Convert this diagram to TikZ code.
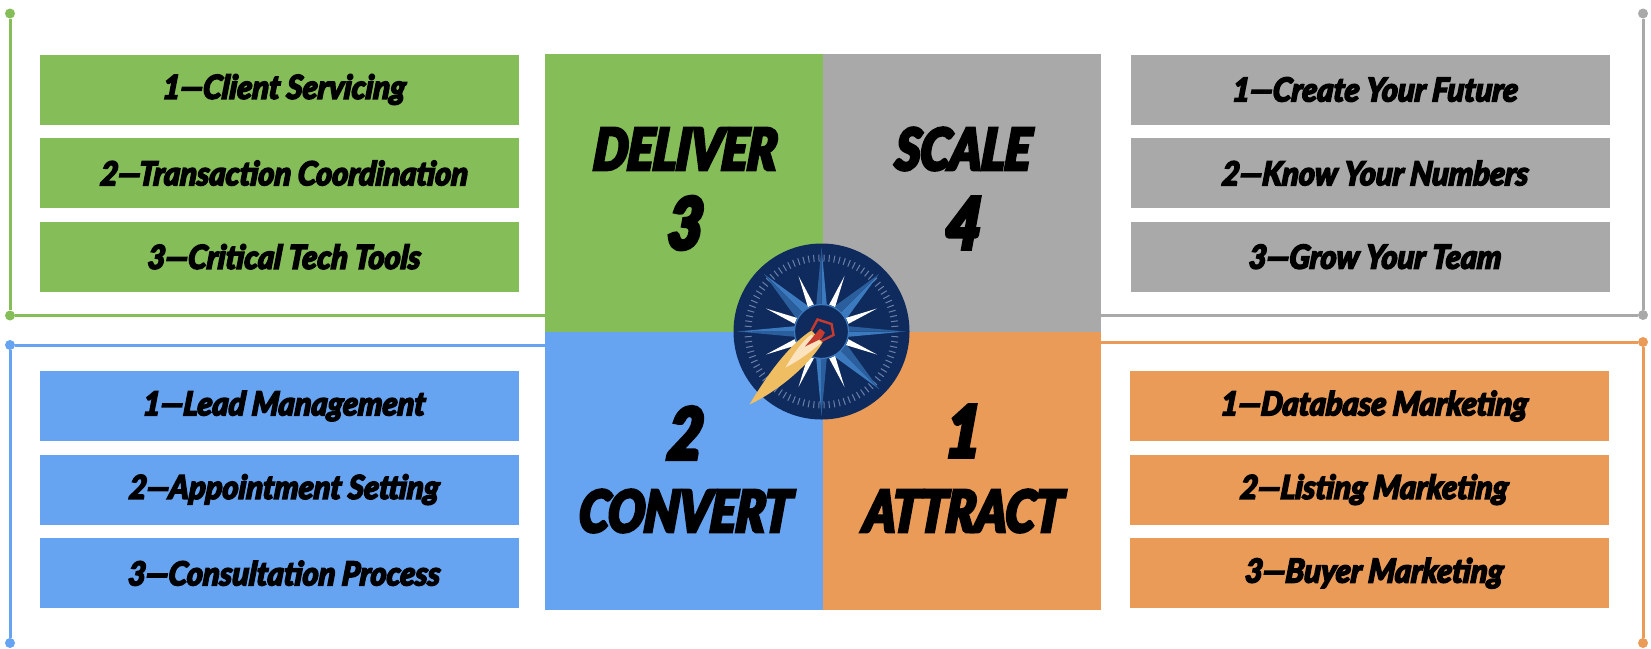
\documentclass[tikz,border=0pt]{standalone}
\usepackage{fontspec}
\newfontfamily\heavyfont[UprightFont=* Black Italic,FakeStretch=0.93,FakeBold=4.5,FakeSlant=0.08]{Lato}
\newfontfamily\headfont[UprightFont=* Black Italic,FakeStretch=0.84,FakeBold=6,FakeSlant=0.08]{Lato}
\definecolor{grn}{HTML}{85BD58}
\definecolor{gry}{HTML}{A8A9A8}
\definecolor{blu}{HTML}{66A4F2}
\definecolor{org}{HTML}{EA9B57}
\definecolor{navy}{HTML}{0F2A5C}
\definecolor{stara}{HTML}{3B7ABF}
\definecolor{starb}{HTML}{2A5E9C}
\definecolor{tick}{HTML}{6A80A8}
\definecolor{flame}{HTML}{EFBE62}
\definecolor{cream}{HTML}{FBE3C0}
\definecolor{ember}{HTML}{C73A2E}
\usetikzlibrary{positioning}

\begin{document}
\begin{tikzpicture}[%
  x=1pt, y=-1pt,
  node distance=13.2pt,
  item/.style={rectangle, minimum width=479pt, minimum height=70pt, inner sep=0pt, execute at begin node=\hspace*{9pt}, font=\heavyfont\fontsize{33}{36}\selectfont},
  quad/.style={rectangle, minimum width=278pt, minimum height=278pt, inner sep=0pt},
  word/.style={inner sep=0pt, font=\headfont\fontsize{57}{60}\selectfont},
  digit/.style={inner sep=0pt, font=\headfont\fontsize{71}{74}\selectfont},
  rail/.style={line width=3pt},
  dot/.style={circle, inner sep=0pt, minimum size=10pt},
  ]
  \useasboundingbox (0,0) rectangle (1651,648);

  % the four quarters in the middle
  \node[quad, fill=grn] (deliver) at (684,193) {};
  \node[quad, fill=gry] (scale) at (962,193) {};
  \node[quad, fill=blu] (convert) at (684,471) {};
  \node[quad, fill=org] (attract) at (962,471) {};
  \node[word] (wdeliver) at (684,149) {DELIVER};
  \node[digit] (ndeliver) at (684,223) {3};
  \node[word] (wscale) at (962,149) {SCALE};
  \node[digit] (nscale) at (962,223) {4};
  \node[digit] (nconvert) at (684,433) {2};
  \node[word] (wconvert) at (684,511) {CONVERT};
  \node[digit] (nattract) at (962,431) {1};
  \node[word] (wattract) at (962,511) {ATTRACT};

  % lists
  \node[item, fill=grn] (g1) at (279,89.5) {1—Client Servicing};
  \node[item, fill=grn, below=of g1] (g2) {2—Transaction Coordination};
  \node[item, fill=grn, below=of g2] (g3) {3—Critical Tech Tools};
  \node[item, fill=gry] (s1) at (1370,89.5) {1—Create Your Future};
  \node[item, fill=gry, below=of s1] (s2) {2—Know Your Numbers};
  \node[item, fill=gry, below=of s2] (s3) {3—Grow Your Team};
  \node[item, fill=blu] (b1) at (279,406) {1—Lead Management};
  \node[item, fill=blu, below=of b1] (b2) {2—Appointment Setting};
  \node[item, fill=blu, below=of b2] (b3) {3—Consultation Process};
  \node[item, fill=org] (o1) at (1369,406) {1—Database Marketing};
  \node[item, fill=org, below=of o1] (o2) {2—Listing Marketing};
  \node[item, fill=org, below=of o2] (o3) {3—Buyer Marketing};

  % rails with their end dots
  \node[dot, fill=grn] (gtop) at (10,13.5) {};
  \node[dot, fill=grn] (gbot) at (10,315.5) {};
  \node[dot, fill=blu] (btop) at (10,345) {};
  \node[dot, fill=blu] (bbot) at (10,643) {};
  \node[dot, fill=gry] (stop) at (1643,13.5) {};
  \node[dot, fill=gry] (sbot) at (1643,315) {};
  \node[dot, fill=org] (otop) at (1643,342) {};
  \node[dot, fill=org] (obot) at (1643,643) {};
  \draw[rail, grn] (gtop) -- (gbot) -- (gbot -| deliver.west);
  \draw[rail, blu] (bbot) -- (btop) -- (btop -| convert.west);
  \draw[rail, gry] (stop) -- (sbot) -- (sbot -| scale.east);
  \draw[rail, org] (obot) -- (otop) -- (otop -| attract.east);

  % compass
  \begin{scope}[shift={(821.5,331.5)}]
    \node[circle, fill=navy, minimum size=176pt, inner sep=0pt] (dial) at (0,0) {};
    \foreach \a in {0,4,...,356}
      \draw[line width=1pt, tick] (\a:70) -- (\a:77);
    \foreach \a in {0,90,180,270} {
      \fill[stara] (\a:84) -- (\a+12:26) -- (\a:26) -- cycle;
      \fill[starb] (\a:84) -- (\a-12:26) -- (\a:26) -- cycle;
    }
    \foreach \a in {45,135,225,315} {
      \fill[stara] (\a:81) -- (\a+19:27) -- (\a:27) -- cycle;
      \fill[starb] (\a:81) -- (\a-19:27) -- (\a:27) -- cycle;
    }
    \foreach \a in {22.5,67.5,...,337.5}
      \fill[white] (\a:60) -- (\a+6.5:28) -- (\a-6.5:28) -- cycle;
    \node[circle, fill=navy, draw=stara, line width=1.2pt, minimum size=54pt, inner sep=0pt] (hub) at (0,0) {};
    % needle
    \draw[ember, line width=2.4pt] (-10,-1) -- (-4,-12) -- (10,-7.5) -- (12,3.5) -- (-1,10);
    \fill[flame] (-72,73) .. controls (-50,36) and (-28,10) .. (-10,-1) -- (1,11) .. controls (-10,30) and (-40,58) .. (-72,73);
    \fill[cream] (-36,36) .. controls (-28,22) and (-18,8) .. (-10,3) -- (0,11) .. controls (-10,20) and (-24,30) .. (-36,36);
    \fill[ember] (-16.5,15) -- (-1.5,-3) -- (3.5,1) -- (0,7) -- cycle;
  \end{scope}
\end{tikzpicture}
\end{document}
